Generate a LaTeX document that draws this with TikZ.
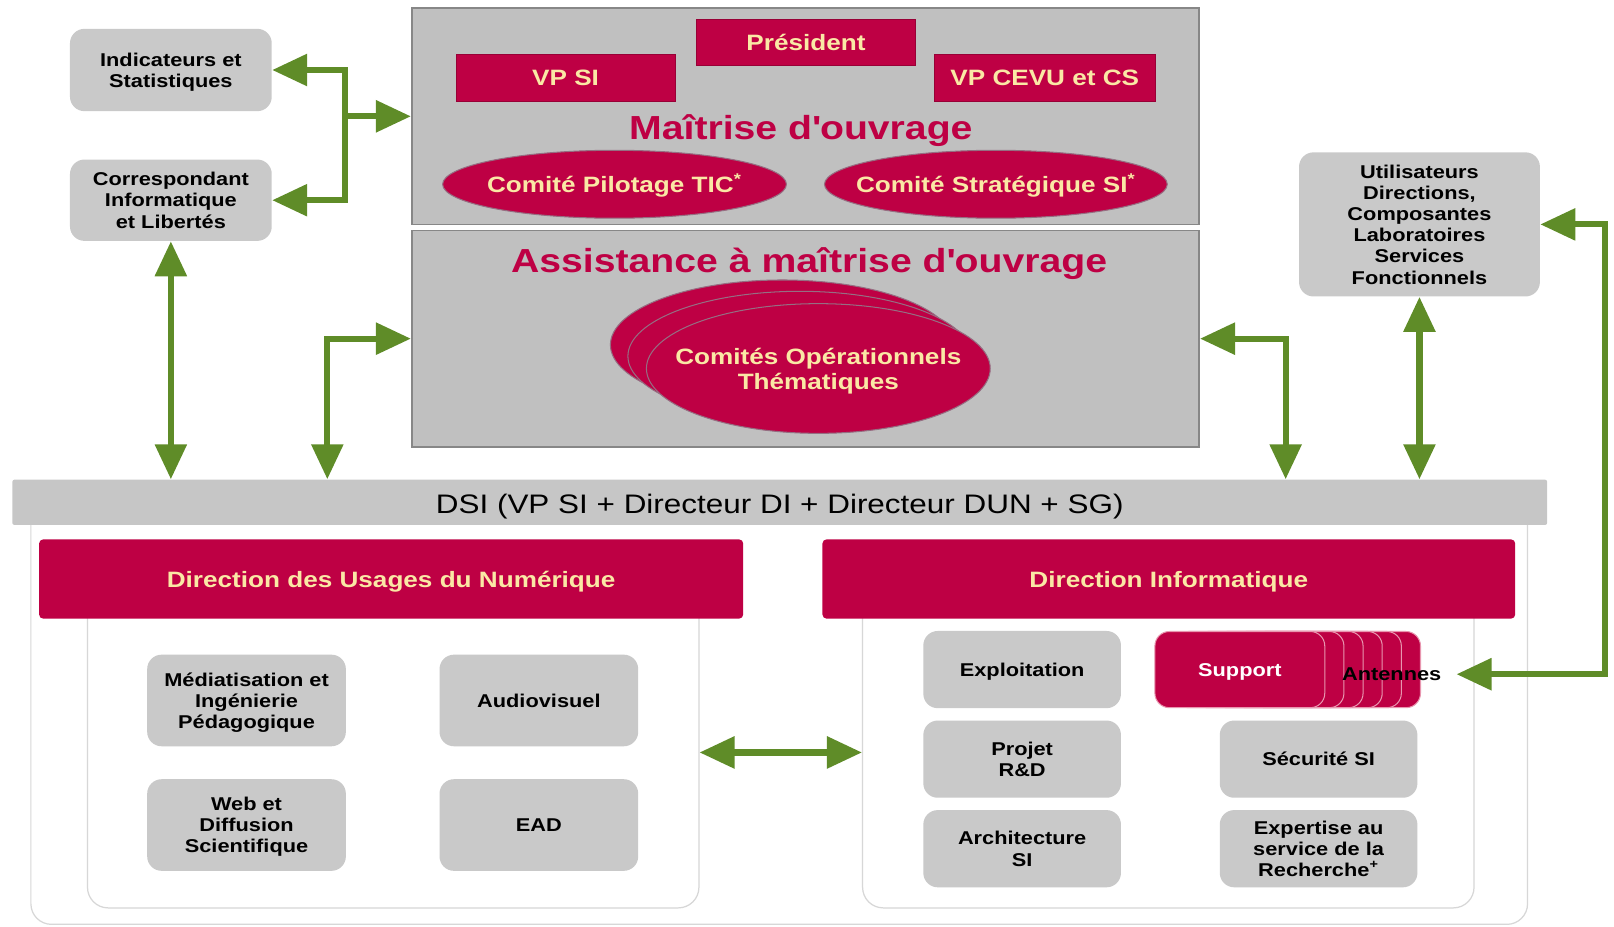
\documentclass[tikz,border=0pt]{standalone}
\usepackage{fontspec}
\setmainfont{Liberation Sans}[FakeStretch=1.175]
\usetikzlibrary{arrows.meta,shapes.geometric}
\definecolor{dred}{RGB}{190,0,68}
\definecolor{cream}{RGB}{250,232,165}
\definecolor{agreen}{RGB}{95,140,40}
\definecolor{biggray}{RGB}{192,192,192}
\definecolor{bigline}{RGB}{135,135,135}
\definecolor{boxgray}{RGB}{201,201,201}
\definecolor{dsigray}{RGB}{198,198,198}
\definecolor{panelline}{RGB}{215,215,215}
\definecolor{pageline}{RGB}{232,150,175}
\definecolor{ellline}{RGB}{150,110,130}
\newcommand\fsmall{\bfseries\fontsize{9}{10.3}\selectfont}
\newcommand\fmid{\bfseries\fontsize{10.8}{12}\selectfont}
\newcommand\ftitle{\bfseries\fontsize{16.2}{18}\selectfont}
\newcommand\fdsi{\fontsize{13}{15}\selectfont}
\begin{document}
\begin{tikzpicture}[x=0.5pt,y=-0.5pt,
  bigbox/.style={draw=bigline,line width=0.8pt,fill=biggray,inner sep=0pt},
  redrect/.style={fill=dred,draw=dred!80!black,line width=0.4pt,text=cream,font=\fmid,inner sep=0pt,text depth=0pt},
  redell/.style={ellipse,fill=dred,draw=ellline,line width=0.5pt,inner sep=0pt},
  elltext/.style={text=cream,font=\fmid,align=center,inner sep=0pt},
  graybox/.style={fill=boxgray,rounded corners=7pt,font=\fsmall,align=center,inner sep=0pt,text depth=0pt},
  header/.style={fill=dred,rounded corners=2pt,text=cream,font=\fmid,inner sep=0pt,minimum height=38.5pt},
  panel/.style={draw=panelline,line width=0.6pt,fill=white,rounded corners=10pt,inner sep=0pt},
  page/.style={fill=dred,draw=pageline,line width=0.5pt,rounded corners=7pt,minimum width=82.5pt,minimum height=37pt,inner sep=0pt,text depth=0pt},
  titletext/.style={text=dred,font=\ftitle,inner sep=0pt},
  arr/.style={draw=agreen,line width=3pt,{Triangle[length=17pt,width=15pt]}-{Triangle[length=17pt,width=15pt]}},
  arrone/.style={draw=agreen,line width=3pt,-{Triangle[length=17pt,width=15pt]}}
]
\useasboundingbox (0,0) rectangle (1568,900);

% lower panels
\draw[panel] (30,480) rectangle (1484,898);
\node[panel,minimum width=297pt,minimum height=151pt] (dunp) at (382,731) {};
\node[panel,minimum width=297pt,minimum height=151pt] (dip) at (1135,731) {};

% DSI bar
\node[fill=dsigray,rounded corners=1pt,minimum width=745.5pt,minimum height=22pt,inner sep=0pt] (dsi) at (757.5,488) {};
\node[font=\fdsi,inner sep=0pt] (dsitext) at (757.5,492) {DSI (VP SI + Directeur DI + Directeur DUN + SG)};

% Maitrise d'ouvrage
\node[bigbox,minimum width=382.5pt,minimum height=105pt] (maitrise) at (782.5,113) {};
\node[bigbox,minimum width=382.5pt,minimum height=105pt] (assist) at (782.5,329) {};
\node[redrect,minimum width=106pt,minimum height=22.5pt] (pres) at (783,41.5) {Président};
\node[redrect,minimum width=106.5pt,minimum height=23pt] (vpsi) at (549.5,76) {VP SI};
\node[redrect,minimum width=107pt,minimum height=23pt] (vpcevu) at (1015,76) {VP CEVU et CS};
\node[titletext] (mo) at (778,127) {Maîtrise d\textquotesingle ouvrage};
\node[redell,minimum width=167pt,minimum height=33pt] (cptic) at (597,179) {};
\node[elltext] at ([yshift=-0.5pt]cptic.center) {Comité Pilotage TIC\textsuperscript{*}};
\node[redell,minimum width=166.5pt,minimum height=33pt] (csi) at (967.5,179) {};
\node[elltext] at ([yshift=-0.5pt]csi.center) {Comité Stratégique SI\textsuperscript{*}};

% Assistance
\node[titletext] (amo) at (786,256) {Assistance à maîtrise d\textquotesingle ouvrage};
\node[redell,minimum width=167pt,minimum height=63pt] (ops3) at (760,335) {};
\node[redell,minimum width=167pt,minimum height=63pt] (ops2) at (777,346) {};
\node[redell,minimum width=167pt,minimum height=63pt] (ops) at (795,358) {};
\node[elltext,text depth=0pt] at (ops) {Comités Opérationnels\\Thématiques};

% side boxes
\node[graybox,minimum width=98pt,minimum height=40pt] (indic) at (166,68) {Indicateurs et\\Statistiques};
\node[graybox,minimum width=98pt,minimum height=39.5pt] (cil) at (166,194.5) {Correspondant\\Informatique\\et Libertés};
\node[graybox,minimum width=117pt,minimum height=70pt] (util) at (1379,218) {Utilisateurs\\Directions,\\Composantes\\Laboratoires\\Services\\Fonctionnels};

% DUN
\node[header,minimum width=342pt] (dun) at (380,562.5) {};
\node[text=cream,font=\fmid,inner sep=0pt] at ([yshift=-1.5pt]dun.center) {Direction des Usages du Numérique};
\node[graybox,minimum width=96.5pt,minimum height=44.5pt] (med) at (239.5,680.5) {Médiatisation et\\Ingénierie\\Pédagogique};
\node[graybox,minimum width=96.5pt,minimum height=44.5pt] (audio) at (523.5,680.5) {Audiovisuel};
\node[graybox,minimum width=96.5pt,minimum height=44.5pt] (web) at (239.5,801.5) {Web et\\Diffusion\\Scientifique};
\node[graybox,minimum width=96.5pt,minimum height=44.5pt] (ead) at (523.5,801.5) {EAD};

% DI
\node[header,minimum width=336.5pt] (di) at (1135.5,562.5) {};
\node[text=cream,font=\fmid,inner sep=0pt] at ([yshift=-1.5pt]di.center) {Direction Informatique};
\node[graybox,minimum width=96pt,minimum height=37.5pt] (expl) at (993,650.5) {Exploitation};
\node[graybox,minimum width=96pt,minimum height=37.5pt] (projet) at (993,737.5) {Projet\\R\&D};
\node[graybox,minimum width=96pt,minimum height=37.5pt] (archi) at (993,824.5) {Architecture\\SI};
\node[graybox,minimum width=96pt,minimum height=37.5pt] (secu) at (1281,737.5) {Sécurité SI};
\node[graybox,minimum width=96pt,minimum height=37.5pt] (expert) at (1281,824.5) {Expertise au\\service de la\\Recherche\textsuperscript{+}};
\foreach \k in {5,4,3,2,1} \node[page] at ({1204.5+\k*18.6},650.5) {};
\node[page,text=white,font=\fsmall] (support) at (1204.5,650.5) {Support};
\node[font=\fsmall,inner sep=0pt] (anten) at (1352,655) {Antennes};

% connectors
\coordinate (b1) at (335,68);
\coordinate (b2) at (335,194.5);
\coordinate (b3) at (335,113);
\draw[arr] (indic.east) -- (b1) -- (b2) -- (cil.east);
\draw[arrone] (b3) -- (b3 -| maitrise.west);
\draw[arr] (cil.south) -- (cil.south |- dsi.north);
\coordinate (c3) at (318,329);
\draw[arr] (assist.west) -- (c3) -- (c3 |- dsi.north);
\coordinate (c4) at (1249,329);
\draw[arr] (assist.east) -- (c4) -- (c4 |- dsi.north);
\draw[arr] (util.south) -- (util.south |- dsi.north);
\coordinate (c6) at (1559,218);
\coordinate (c7) at (1559,655);
\coordinate (c8) at (1415,655);
\draw[arr] (util.east) -- (c6) -- (c7) -- (c8);
\draw[arr] (dunp.east) -- (dip.west);
\end{tikzpicture}
\end{document}
